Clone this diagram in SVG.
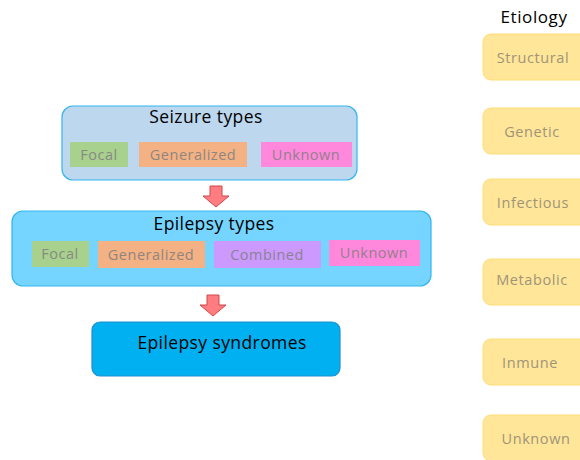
<svg xmlns="http://www.w3.org/2000/svg" width="580" height="460" viewBox="0 0 580 460">
<style>
text{font-family:"Open Sans","Liberation Sans",sans-serif}
.title{font-size:17.5px;fill:#000;text-anchor:middle;letter-spacing:0.4px}
.tag{font-size:14.5px;fill:#7f7f7f;text-anchor:middle;opacity:.85;letter-spacing:0.5px}
.ety rect{fill:#ffe699;stroke:#ffdd77;stroke-width:1}
.ety text{font-size:14.5px;fill:#a09478;text-anchor:middle;letter-spacing:0.6px}
.arrow{fill:#ff7c80;stroke:#d04848;stroke-width:1}
</style>
<rect width="580" height="460" fill="#fff"/>
<g id="seizure-types">
<rect x="62" y="106" width="295" height="74" rx="11" fill="#bdd7ee" stroke="#33b5f0" stroke-width="1.2"/>
<text class="title" x="206" y="123">Seizure types</text>
<rect x="70" y="142" width="58" height="25" fill="#a9d18e"/>
<text class="tag" x="99" y="160">Focal</text>
<rect x="139" y="142" width="108" height="25" fill="#f4b183"/>
<text class="tag" x="193" y="160">Generalized</text>
<rect x="261" y="142" width="91" height="25" fill="#ff88dd"/>
<text class="tag" x="306" y="160">Unknown</text>
</g>
<g id="epilepsy-types">
<rect x="12" y="211" width="419" height="75" rx="11" fill="#75d5ff" stroke="#33b5f0" stroke-width="1.2"/>
<text class="title" x="214" y="230">Epilepsy types</text>
<rect x="32" y="241" width="57" height="26" fill="#a9d18e"/>
<text class="tag" x="60" y="259">Focal</text>
<rect x="98" y="241" width="107" height="27" fill="#f4b183"/>
<text class="tag" x="151" y="260">Generalized</text>
<rect x="214" y="241" width="107" height="27" fill="#cc99ff"/>
<text class="tag" x="267" y="260">Combined</text>
<rect x="329" y="240" width="91" height="26" fill="#ff88dd"/>
<text class="tag" x="374" y="258">Unknown</text>
</g>
<g id="epilepsy-syndromes">
<rect x="92" y="322" width="248" height="54" rx="8" fill="#00b0f0" stroke="#1f8fcf" stroke-width="1.2"/>
<text class="title" x="222" y="349">Epilepsy syndromes</text>
</g>
<g id="connectors">
<path class="arrow" d="M210,186 H222 V196 H229 L216,207 L203,196 H210 Z"/>
<path class="arrow" d="M207,295 H219 V305 H226 L213,316 L200,305 H207 Z"/>
</g>
<g id="etiology">
<text x="534" y="23" style="font-size:17px;fill:#000;text-anchor:middle;letter-spacing:0.6px">Etiology</text>
</g>
<g id="structural" class="ety"><rect x="483" y="34" width="110" height="46" rx="8"/><text x="533" y="63">Structural</text></g>
<g id="genetic" class="ety"><rect x="483" y="108" width="110" height="46" rx="8"/><text x="532" y="137">Genetic</text></g>
<g id="infectious" class="ety"><rect x="483" y="179" width="110" height="46" rx="8"/><text x="533" y="208">Infectious</text></g>
<g id="metabolic" class="ety"><rect x="483" y="259" width="110" height="46" rx="8"/><text x="532" y="285">Metabolic</text></g>
<g id="inmune" class="ety"><rect x="483" y="339" width="110" height="46" rx="8"/><text x="530" y="368">Inmune</text></g>
<g id="unknown-etiology" class="ety"><rect x="483" y="415" width="110" height="46" rx="8"/><text x="536" y="444">Unknown</text></g>
</svg>
